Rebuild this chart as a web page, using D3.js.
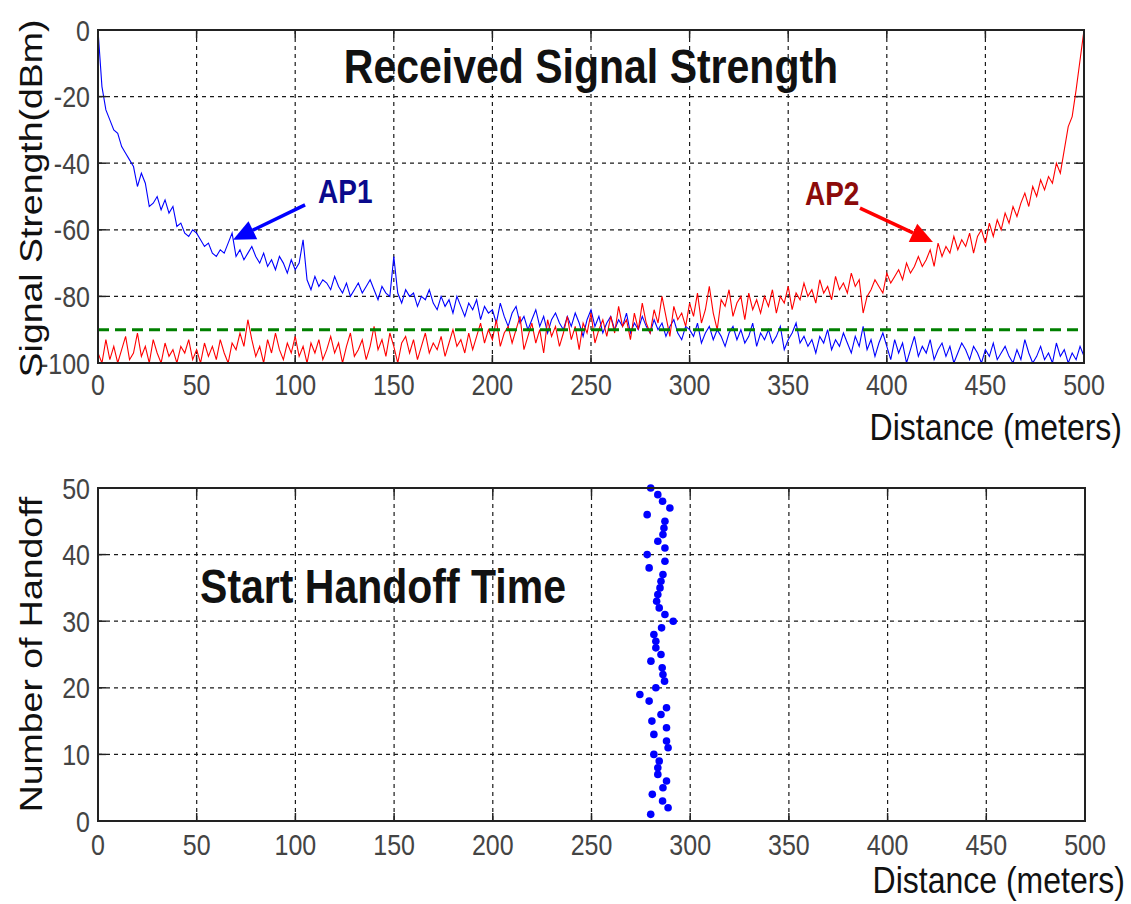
<!DOCTYPE html>
<html>
<head>
<meta charset="utf-8">
<script src="https://cdn.jsdelivr.net/npm/d3@7"></script>
<style>
  html, body { margin: 0; padding: 0; background: #fff; }
  svg { display: block; font-family: "Liberation Sans", Arial, sans-serif; }
</style>
</head>
<body>
<svg id="chart" width="1131" height="904"></svg>
<script>
// ---------------- DATA ----------------
// sample grid for the signal curves (every 2 m, 0..500)
const distances = d3.range(0, 501, 2);

const ap1Signal = [
  0, -17, -24, -27, -30, -31, -35, -37, -39, -41,
  -47, -43, -46, -53, -52, -50, -54, -51, -55, -53,
  -59, -58, -61, -62, -60, -61, -63, -65, -64, -67,
  -68, -66, -67, -64, -61, -68, -66, -69, -67, -65,
  -68, -70, -67, -71, -69, -72, -68, -70, -73, -69,
  -72, -70, -63, -75, -78, -74, -77, -75, -76, -78,
  -74, -77, -79, -76, -80, -78, -76, -79, -77, -75,
  -78, -81, -77, -79, -80, -68, -79, -82, -78, -80,
  -79, -83, -80, -81, -78, -82, -84, -80, -83, -81,
  -85, -80, -83, -86, -82, -84, -81, -87, -83, -85,
  -84, -88, -82, -86, -89, -85, -83, -88, -86, -90,
  -87, -84, -89, -86, -91, -87, -85, -88, -90, -86,
  -89, -85, -88, -92, -87, -84, -89, -86, -91, -88,
  -86, -90, -87, -89, -85, -91, -88, -90, -86, -89,
  -91, -87, -90, -88, -92, -89, -87, -91, -93, -89,
  -90, -92, -88, -94, -91, -89, -93, -90, -92, -95,
  -91, -89, -93, -90, -94, -92, -88, -95, -91, -93,
  -90, -94, -92, -89, -96, -93, -91, -88, -94, -92,
  -95, -93, -97, -92, -94, -90, -96, -93, -95, -91,
  -94, -97, -92, -95, -89, -96, -93, -98, -94, -91,
  -95, -99, -93, -97, -94, -100, -96, -92, -98, -95,
  -97, -93, -99, -96, -94, -98, -95, -100, -97, -94,
  -96, -99, -95, -97, -100, -96, -98, -94, -99, -97,
  -95, -98, -100, -96, -99, -93, -97, -100, -98, -95,
  -99, -97, -100, -94, -98, -96, -100, -97, -99, -95,
  -98
];

const ap2Signal = [
  -97, -100, -93, -99, -95, -100, -96, -92, -99, -97,
  -91, -98, -95, -100, -93, -97, -100, -94, -98, -96,
  -100, -95, -97, -93, -99, -96, -100, -94, -98, -95,
  -99, -93, -97, -100, -94, -96, -91, -95, -87, -93,
  -98, -95, -100, -93, -97, -91, -96, -99, -94, -97,
  -92, -98, -95, -100, -94, -97, -93, -99, -96, -92,
  -97, -94, -100, -95, -91, -98, -96, -93, -99, -95,
  -89, -96, -93, -98, -91, -95, -100, -94, -92, -97,
  -93, -99, -95, -91, -97, -94, -96, -92, -98, -94,
  -90, -95, -93, -97, -91, -96, -92, -88, -94, -90,
  -93, -87, -95, -91, -89, -94, -90, -86, -96, -92,
  -88, -94, -90, -97, -87, -92, -89, -95, -91, -86,
  -93, -89, -96, -88, -91, -85, -94, -90, -87, -92,
  -86, -91, -83, -89, -87, -93, -85, -90, -82, -88,
  -91, -84, -88, -80, -86, -92, -83, -87, -85, -89,
  -82, -86, -79, -88, -84, -77, -85, -90, -81, -83,
  -78, -86, -82, -80, -87, -79, -84, -81, -85, -80,
  -83, -78, -85, -80, -82, -77, -84, -79, -81, -76,
  -80, -78, -82, -75, -79, -77, -81, -74, -78, -76,
  -79, -73, -77, -75, -85, -80, -78, -75, -77, -79,
  -73, -76, -74, -72, -75, -70, -73, -71, -68, -71,
  -69, -66, -71, -64, -68, -65, -67, -62, -66, -63,
  -65, -61, -67, -62, -60, -64, -58, -62, -57, -60,
  -55, -58, -53, -56, -52, -49, -53, -47, -50, -45,
  -48, -44, -46, -40, -43, -36, -29, -26, -18, -9,
  0
];

const thresholdDbm = -90;

const handoffNumber = d3.range(1, 51);
const handoffDistance = [
  280, 288.8, 286, 280.8, 286.2, 288, 283.6, 283.6, 284.3, 281.6,
  288.8, 288, 281.6, 288, 280.6, 285.2, 288, 279.2, 274.5, 282.6,
  287, 286.2, 285.8, 280.1, 285.2, 282.6, 282.6, 281.6, 285.5, 291.4,
  287.2, 284.3, 283, 283.6, 284.7, 285.2, 286.2, 279.2, 287.2, 278.2,
  287.2, 283.6, 286.2, 286.7, 287.2, 278.2, 289.7, 286, 283.6, 280
];

const xTicks = [0, 50, 100, 150, 200, 250, 300, 350, 400, 450, 500];
const yTicksTop = [0, -20, -40, -60, -80, -100];
const yTicksBottom = [0, 10, 20, 30, 40, 50];

// ---------------- LAYOUT ----------------
const svg = d3.select("#chart");
const STRETCH = 1.17;

function panel(x0, x1, y0, y1, yDomain, yTicks) {
  const x = d3.scaleLinear().domain([0, 500]).range([x0, x1]);
  const y = d3.scaleLinear().domain(yDomain).range([y1, y0]);
  return { x, y, yTicks, x0, x1, y0, y1 };
}

const topP = panel(98, 1084, 30, 363, [-100, 0], yTicksTop);
const botP = panel(98, 1085, 488, 821, [0, 50], yTicksBottom);

function drawFrame(p) {
  const g = svg.append("g");
  g.selectAll(".vg").data(xTicks.filter(d => d > 0 && d < 500)).join("line")
    .attr("x1", d => p.x(d)).attr("x2", d => p.x(d))
    .attr("y1", p.y0).attr("y2", p.y1)
    .attr("stroke", "#1a1a1a").attr("stroke-width", 1.2).attr("stroke-dasharray", "4,4");
  const yd = p.y.domain();
  g.selectAll(".hg").data(p.yTicks.filter(d => d > yd[0] && d < yd[1])).join("line")
    .attr("x1", p.x0).attr("x2", p.x1)
    .attr("y1", d => p.y(d)).attr("y2", d => p.y(d))
    .attr("stroke", "#1a1a1a").attr("stroke-width", 1.2).attr("stroke-dasharray", "4,4");
  return g;
}

function drawAxes(p, labelOffset) {
  const g = svg.append("g");
  const tl = 8;
  xTicks.forEach(d => {
    g.append("line").attr("x1", p.x(d)).attr("x2", p.x(d)).attr("y1", p.y1).attr("y2", p.y1 - tl)
      .attr("stroke", "#222").attr("stroke-width", 1.5);
    g.append("line").attr("x1", p.x(d)).attr("x2", p.x(d)).attr("y1", p.y0).attr("y2", p.y0 + tl)
      .attr("stroke", "#222").attr("stroke-width", 1.5);
    g.append("text")
      .attr("transform", `translate(${p.x(d)},${p.y1 + labelOffset}) scale(1,1.2)`)
      .attr("text-anchor", "middle").attr("font-size", 25).attr("fill", "#444")
      .text(d);
  });
  p.yTicks.forEach(d => {
    g.append("line").attr("x1", p.x0).attr("x2", p.x0 + tl).attr("y1", p.y(d)).attr("y2", p.y(d))
      .attr("stroke", "#222").attr("stroke-width", 1.5);
    g.append("line").attr("x1", p.x1).attr("x2", p.x1 - tl).attr("y1", p.y(d)).attr("y2", p.y(d))
      .attr("stroke", "#222").attr("stroke-width", 1.5);
    g.append("text")
      .attr("transform", `translate(${p.x0 - 8},${p.y(d) + 10.5}) scale(1,1.2)`)
      .attr("text-anchor", "end").attr("font-size", 25).attr("fill", "#444")
      .text(d);
  });
  g.append("rect").attr("x", p.x0).attr("y", p.y0)
    .attr("width", p.x1 - p.x0).attr("height", p.y1 - p.y0)
    .attr("fill", "none").attr("stroke", "#222").attr("stroke-width", 2);
}

// ---------------- TOP PANEL ----------------
drawFrame(topP);

const lineTop = (vals) => d3.line()
  .x((d, i) => topP.x(distances[i]))
  .y(d => topP.y(d))(vals);

svg.append("defs").append("clipPath").attr("id", "clipTop")
  .append("rect").attr("x", topP.x0).attr("y", topP.y0 - 1)
  .attr("width", topP.x1 - topP.x0).attr("height", topP.y1 - topP.y0 + 1);

const curves = svg.append("g").attr("clip-path", "url(#clipTop)");
curves.append("path").attr("d", lineTop(ap1Signal))
  .attr("fill", "none").attr("stroke", "#0000ff").attr("stroke-width", 1.1);
curves.append("path").attr("d", lineTop(ap2Signal))
  .attr("fill", "none").attr("stroke", "#ff0000").attr("stroke-width", 1.1);
curves.append("line")
  .attr("x1", topP.x(0)).attr("x2", topP.x(500))
  .attr("y1", topP.y(thresholdDbm)).attr("y2", topP.y(thresholdDbm))
  .attr("stroke", "#008000").attr("stroke-width", 3).attr("stroke-dasharray", "11,6");

drawAxes(topP, 32);

svg.append("text")
  .attr("transform", `translate(${topP.x(250)},${topP.y(-16)}) scale(1,${STRETCH})`)
  .attr("text-anchor", "middle").attr("font-size", 41).attr("font-weight", "bold")
  .attr("fill", "#111").text("Received Signal Strength");

function arrow(x1, y1, x2, y2, color) {
  const ang = Math.atan2(y2 - y1, x2 - x1);
  const L = 22, W = 10;
  const bx = x2 - L * Math.cos(ang), by = y2 - L * Math.sin(ang);
  svg.append("line").attr("x1", x1).attr("y1", y1).attr("x2", bx).attr("y2", by)
    .attr("stroke", color).attr("stroke-width", 3.5);
  const pts = [
    [x2, y2],
    [bx + W * Math.sin(ang), by - W * Math.cos(ang)],
    [bx - W * Math.sin(ang), by + W * Math.cos(ang)]
  ];
  svg.append("polygon").attr("points", pts.map(p => p.join(",")).join(" ")).attr("fill", color);
}
arrow(topP.x(105), topP.y(-52.5), topP.x(68.5), topP.y(-63), "#0000ff");
arrow(topP.x(386.4), topP.y(-53.5), topP.x(423.4), topP.y(-63.7), "#ff0000");

svg.append("text")
  .attr("transform", `translate(${topP.x(111.6)},${topP.y(-52)}) scale(1,${STRETCH})`)
  .attr("font-size", 28).attr("font-weight", "bold").attr("fill", "#0a0a8c").text("AP1");
svg.append("text")
  .attr("transform", `translate(${topP.x(358.5)},${topP.y(-52.6)}) scale(1,${STRETCH})`)
  .attr("font-size", 28).attr("font-weight", "bold").attr("fill", "#8c0a0a").text("AP2");

svg.append("text")
  .attr("transform", `translate(1122,440) scale(1,${STRETCH})`)
  .attr("text-anchor", "end").attr("font-size", 32).attr("fill", "#111").text("Distance (meters)");
svg.append("text")
  .attr("transform", `translate(42,${(topP.y0 + topP.y1) / 2 + 2}) rotate(-90) scale(${STRETCH},1)`)
  .attr("text-anchor", "middle").attr("font-size", 32).attr("fill", "#111").text("Signal Strength(dBm)");

// ---------------- BOTTOM PANEL ----------------
drawFrame(botP);

svg.append("g").selectAll("circle")
  .data(handoffNumber)
  .join("circle")
  .attr("cx", (d, i) => botP.x(handoffDistance[i]))
  .attr("cy", d => botP.y(d))
  .attr("r", 3.8)
  .attr("fill", "#0000ff");

drawAxes(botP, 34);

svg.append("text")
  .attr("transform", `translate(${botP.x(51.7)},${botP.y(32.7)}) scale(1,${STRETCH})`)
  .attr("font-size", 41).attr("font-weight", "bold").attr("fill", "#111").text("Start Handoff Time");

svg.append("text")
  .attr("transform", `translate(1125,893) scale(1,${STRETCH})`)
  .attr("text-anchor", "end").attr("font-size", 32).attr("fill", "#111").text("Distance (meters)");
svg.append("text")
  .attr("transform", `translate(42,${(botP.y0 + botP.y1) / 2}) rotate(-90) scale(${STRETCH},1)`)
  .attr("text-anchor", "middle").attr("font-size", 32).attr("fill", "#111").text("Number of Handoff");
</script>
</body>
</html>
